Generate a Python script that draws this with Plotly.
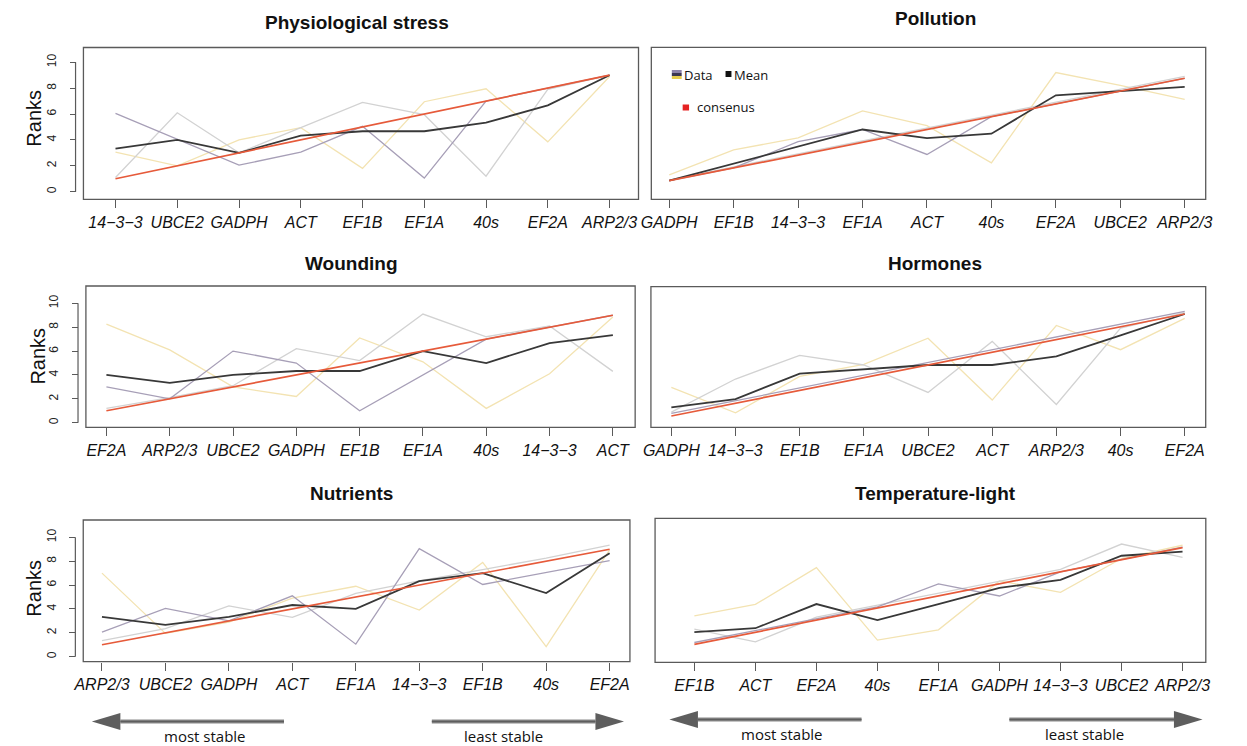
import plotly.graph_objects as go

# ---------------------------------------------------------------- data
# Rank of each reference gene under each stress condition.
# Three rank lists per condition, their mean and the consensus order.

phys_genes = ["14−3−3", "UBCE2", "GADPH", "ACT", "EF1B", "EF1A", "40s", "EF2A", "ARP2/3"]
phys_purple = [6.05, 4.05, 2.05, 3.05, 5.05, 1.05, 7.0, 8.0, 9.0]
phys_gray = [1.1, 6.1, 3.0, 4.95, 6.9, 5.95, 1.2, 7.9, 9.0]
phys_yellow = [3.05, 2.0, 4.0, 4.95, 1.8, 6.95, 7.95, 3.85, 8.9]
phys_mean = [3.33, 4.0, 3.0, 4.33, 4.67, 4.67, 5.33, 6.67, 9.0]
phys_consensus = [1, 2, 3, 4, 5, 6, 7, 8, 9]

poll_genes = ["GADPH", "EF1B", "14−3−3", "EF1A", "ACT", "40s", "EF2A", "UBCE2", "ARP2/3"]
poll_purple = [1.0, 2.0, 4.05, 5.0, 3.05, 6.0, 7.0, 8.0, 9.0]
poll_gray = [1.05, 2.1, 3.1, 4.1, 5.1, 6.1, 7.1, 8.1, 9.15]
poll_yellow = [1.45, 3.4, 4.35, 6.45, 5.3, 2.4, 9.45, 8.45, 7.35]
poll_mean = [1.0, 2.33, 3.67, 5.0, 4.33, 4.67, 7.67, 8.0, 8.33]
poll_consensus = [1, 2, 3, 4, 5, 6, 7, 8, 9]

wound_genes = ["EF2A", "ARP2/3", "UBCE2", "GADPH", "EF1B", "EF1A", "40s", "14−3−3", "ACT"]
wound_purple = [3.0, 2.0, 6.0, 5.0, 1.0, 4.0, 7.0, 8.0, 9.0]
wound_gray = [1.2, 2.1, 3.1, 6.2, 5.2, 9.1, 7.2, 8.1, 4.3]
wound_yellow = [8.25, 6.1, 3.0, 2.2, 7.1, 5.1, 1.2, 4.1, 8.85]
wound_mean = [4.0, 3.33, 4.0, 4.33, 4.33, 6.0, 5.0, 6.67, 7.33]
wound_consensus = [1, 2, 3, 4, 5, 6, 7, 8, 9]

horm_genes = ["GADPH", "14−3−3", "EF1B", "EF1A", "UBCE2", "ACT", "ARP2/3", "40s", "EF2A"]
horm_purple = [1.2, 2.2, 3.2, 4.2, 5.2, 6.2, 7.2, 8.2, 9.2]
horm_gray = [1.3, 3.9, 5.75, 5.0, 2.85, 6.85, 1.9, 7.9, 9.1]
horm_yellow = [3.25, 1.25, 4.1, 5.05, 7.1, 2.25, 8.1, 6.2, 8.65]
horm_mean = [1.67, 2.33, 4.33, 4.67, 5.0, 5.0, 5.67, 7.33, 9.0]
horm_consensus = [1, 2, 3, 4, 5, 6, 7, 8, 9]

nutr_genes = ["ARP2/3", "UBCE2", "GADPH", "ACT", "EF1A", "14−3−3", "EF1B", "40s", "EF2A"]
nutr_purple = [2.05, 4.05, 3.0, 5.1, 1.05, 9.05, 6.05, 7.05, 8.05]
nutr_gray = [1.35, 2.35, 4.25, 3.3, 5.3, 6.35, 7.3, 8.25, 9.35]
nutr_yellow = [7.0, 1.95, 2.9, 4.9, 5.9, 3.9, 7.9, 0.85, 8.95]
nutr_mean = [3.33, 2.67, 3.33, 4.33, 4.0, 6.33, 7.0, 5.33, 8.67]
nutr_consensus = [1, 2, 3, 4, 5, 6, 7, 8, 9]

temp_genes = ["EF1B", "ACT", "EF2A", "40s", "EF1A", "GADPH", "14−3−3", "UBCE2", "ARP2/3"]
temp_purple = [1.15, 2.15, 3.15, 4.1, 6.0, 5.0, 7.0, 8.0, 9.05]
temp_gray = [2.25, 1.2, 3.25, 4.25, 5.2, 6.25, 7.2, 9.3, 8.2]
temp_yellow = [3.35, 4.3, 7.35, 1.35, 2.2, 6.25, 5.3, 8.1, 9.2]
temp_mean = [2.0, 2.33, 4.33, 3.0, 4.33, 5.67, 6.33, 8.33, 8.67]
temp_consensus = [1, 2, 3, 4, 5, 6, 7, 8, 9]

titles = ["Physiological stress", "Pollution", "Wounding", "Hormones",
          "Nutrients", "Temperature-light"]
rank_ticks = [0, 2, 4, 6, 8, 10]
arrow_labels = ["most stable", "least stable", "most stable", "least stable"]

# ---------------------------------------------------------------- layout helpers
W, H = 1247, 746


def px_x(p):
    return p / W


def px_y(p):
    return 1 - p / H


COL_PURPLE = "#a79fb7"
COL_GRAY = "#d2d2d2"
COL_YELLOW = "#f3e3b2"
COL_MEAN = "#383838"
COL_CONS = "#e65a3a"
COL_FRAME = "#5a5a5a"
FONT = "Liberation Sans"

# each panel: data, box (left, right, top, bottom) in px, x range, y range,
# left axis shown?, title centre, y-label centre
panels = [
    dict(genes=phys_genes, series=(phys_purple, phys_gray, phys_yellow), mean=phys_mean,
         cons=phys_consensus, box=(73.5, 636.7, 47.5, 199.3), xr=[0.481, 9.469],
         yr=[-0.589, 11.14], yaxis=True, title=(351, 22.7), ranks=(23, 118)),
    dict(genes=poll_genes, series=(poll_purple, poll_gray, poll_yellow), mean=poll_mean,
         cons=poll_consensus, box=(649.7, 1212.2, 47.3, 199.3), xr=[0.722, 9.326],
         yr=[-0.453, 11.42], yaxis=False, title=(938, 18), ranks=None),
    dict(genes=wound_genes, series=(wound_purple, wound_gray, wound_yellow), mean=wound_mean,
         cons=wound_consensus, box=(76, 633.3, 286, 427.3), xr=[0.676, 9.352],
         yr=[-0.385, 11.45], yaxis=True, title=(345, 263), ranks=(27, 356)),
    dict(genes=horm_genes, series=(horm_purple, horm_gray, horm_yellow), mean=horm_mean,
         cons=horm_consensus, box=(649.3, 1212.2, 286.7, 427.3), xr=[0.682, 9.327],
         yr=[0.114, 11.14], yaxis=False, title=(938, 263), ranks=None),
    dict(genes=nutr_genes, series=(nutr_purple, nutr_gray, nutr_yellow), mean=nutr_mean,
         cons=nutr_consensus, box=(73.3, 628, 520, 661.7), xr=[0.705, 9.32],
         yr=[-0.419, 11.45], yaxis=True, title=(345, 493), ranks=(23, 588)),
    dict(genes=temp_genes, series=(temp_purple, temp_gray, temp_yellow), mean=temp_mean,
         cons=temp_consensus, box=(653.5, 1212.3, 518.3, 662.3), xr=[0.356, 9.381],
         yr=[-0.49, 11.43], yaxis=False, title=(938, 493), ranks=None),
]


def text_at(txt, x, y, size, family=FONT, angle=0, xanchor="center"):
    return dict(text=txt, xref="paper", yref="paper", x=px_x(x), y=px_y(y),
                xanchor=xanchor, yanchor="middle", showarrow=False, textangle=angle,
                borderpad=0, font=dict(family=family, size=size, color="#111111"))


fig = go.Figure()
shapes = []
annotations = []
layout_axes = {}

for i, p in enumerate(panels, start=1):
    xa = "x" if i == 1 else f"x{i}"
    ya = "y" if i == 1 else f"y{i}"
    xkey = "xaxis" if i == 1 else f"xaxis{i}"
    ykey = "yaxis" if i == 1 else f"yaxis{i}"
    positions = list(range(1, len(p["genes"]) + 1))

    # the three rank lists, then their mean, then the consensus on top
    for vals, col in ((p["series"][2], COL_YELLOW), (p["series"][1], COL_GRAY),
                      (p["series"][0], COL_PURPLE)):
        fig.add_trace(go.Scatter(x=positions, y=vals, mode="lines", xaxis=xa, yaxis=ya,
                                 line=dict(color=col, width=1.3), showlegend=False,
                                 hoverinfo="skip"))
    fig.add_trace(go.Scatter(x=positions, y=p["mean"], mode="lines", xaxis=xa, yaxis=ya,
                             line=dict(color=COL_MEAN, width=1.8), showlegend=False))
    fig.add_trace(go.Scatter(x=positions, y=p["cons"], mode="lines", xaxis=xa, yaxis=ya,
                             line=dict(color=COL_CONS, width=1.7), showlegend=False))

    l, r, t, b = p["box"]
    layout_axes[xkey] = dict(
        domain=[px_x(l), px_x(r)], range=p["xr"], anchor=ya,
        tickmode="array", tickvals=positions, ticktext=p["genes"],
        ticks="outside", ticklen=8, tickwidth=1.2, tickcolor=COL_FRAME,
        showline=False, showgrid=False, zeroline=False,
        tickfont=dict(family=FONT, size=16, color="#111111", style="italic"),
        ticklabelstandoff=0,
    )
    if p["yaxis"]:
        axis_px = l - 8
        layout_axes[ykey] = dict(
            domain=[px_y(b), px_y(t)], range=p["yr"], anchor="free",
            position=px_x(axis_px), tickmode="array", tickvals=rank_ticks,
            ticks="outside", ticklen=6, tickwidth=1.2, tickcolor=COL_FRAME,
            tickangle=-90, showline=False, showgrid=False, zeroline=False,
            tickfont=dict(family=FONT, size=12, color="#222222"),
            ticklabelstandoff=9,
        )
        shapes.append(dict(type="line", xref="paper", yref=ya,
                           x0=px_x(axis_px), x1=px_x(axis_px), y0=0, y1=10,
                           line=dict(color=COL_FRAME, width=1.2)))
        rx, ry = p["ranks"]
        annotations.append(text_at("Ranks", rx, ry, 20, angle=-90))
    else:
        layout_axes[ykey] = dict(
            domain=[px_y(b), px_y(t)], range=p["yr"], anchor=xa,
            showticklabels=False, ticks="", showline=False, showgrid=False,
            zeroline=False,
        )
    # plot frame
    shapes.append(dict(type="rect", xref=f"{xa} domain", yref=f"{ya} domain",
                       x0=0, x1=1, y0=0, y1=1, line=dict(color=COL_FRAME, width=1.3)))
    tx, ty = p["title"]
    annotations.append(text_at(f"<b>{titles[i - 1]}</b>", tx, ty, 19))

# ---------------------------------------------------------------- legend (Pollution panel)
LEG_FONT = "Open Sans"
stripe_cols = ["#8c82a8", "#3b3650", "#e6cc4c"]
for k, c in enumerate(stripe_cols):
    shapes.append(dict(type="rect", xref="paper", yref="paper",
                       x0=px_x(670.5), x1=px_x(680.5),
                       y0=px_y(70 + 3 * (k + 1)), y1=px_y(70 + 3 * k),
                       fillcolor=c, line=dict(width=0)))
shapes.append(dict(type="rect", xref="paper", yref="paper",
                   x0=px_x(725), x1=px_x(731), y0=px_y(77), y1=px_y(71),
                   fillcolor="#111111", line=dict(width=0)))
shapes.append(dict(type="rect", xref="paper", yref="paper",
                   x0=px_x(681.5), x1=px_x(688), y0=px_y(110.5), y1=px_y(104.5),
                   fillcolor="#e52222", line=dict(width=0)))
for txt, x0, y0 in (("Data", 681.5, 74.5), ("Mean", 732.5, 74.5), ("consenus", 695.5, 107)):
    annotations.append(text_at(txt, x0, y0, 13, family=LEG_FONT, xanchor="left"))

# ---------------------------------------------------------------- stability arrows
ARROW_COL = "#5e5e5e"
arrows = [  # (shaft start, shaft end, tip, y)
    (277, 111, 82, 721.5),
    (427, 593, 622, 721.5),
    (863, 697, 668, 719.5),
    (1013, 1180, 1209, 719.5),
]
label_pos = [(197, 735.5), (500, 735.5), (782, 734), (1089, 734)]
for (s0, s1, tip, y), (lx, ly), lab in zip(arrows, label_pos, arrow_labels):
    shapes.append(dict(type="line", xref="paper", yref="paper",
                       x0=px_x(s0), x1=px_x(s1), y0=px_y(y), y1=px_y(y),
                       line=dict(color="#8a8a8a", width=4)))
    shapes.append(dict(type="line", xref="paper", yref="paper",
                       x0=px_x(s0), x1=px_x(s1), y0=px_y(y), y1=px_y(y),
                       line=dict(color=ARROW_COL, width=1.6)))
    path = (f"M {px_x(tip)} {px_y(y)} L {px_x(s1)} {px_y(y - 8.5)} "
            f"L {px_x(s1)} {px_y(y + 8.5)} Z")
    shapes.append(dict(type="path", xref="paper", yref="paper", path=path,
                       fillcolor=ARROW_COL, line=dict(width=0)))
    annotations.append(text_at(lab, lx, ly, 15, family=LEG_FONT))

fig.update_layout(
    width=W, height=H, margin=dict(l=0, r=0, t=0, b=0),
    paper_bgcolor="white", plot_bgcolor="white", showlegend=False,
    shapes=shapes, annotations=annotations, **layout_axes,
)

fig.write_html("out.html")
